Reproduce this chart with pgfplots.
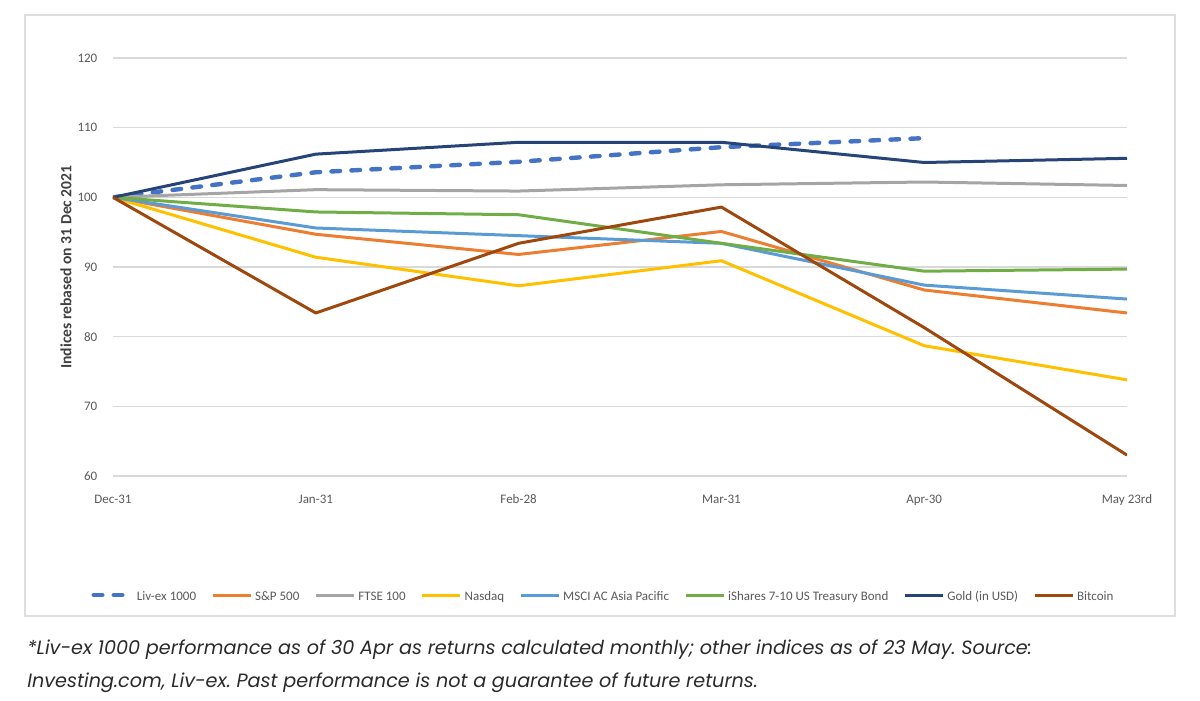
\documentclass[border=0pt]{standalone}
\usepackage{pgfplots}
\pgfplotsset{compat=1.18}
\usepackage{fontspec}
\setmainfont{Carlito}
\newfontfamily\capfont{Poppins}
\definecolor{livex}{HTML}{4472C4}
\definecolor{spx}{HTML}{ED7D31}
\definecolor{ftse}{HTML}{A5A5A5}
\definecolor{nasdaq}{HTML}{FFC000}
\definecolor{msci}{HTML}{5B9BD5}
\definecolor{ishares}{HTML}{70AD47}
\definecolor{gold}{HTML}{264478}
\definecolor{btc}{HTML}{9E480E}
\definecolor{gridc}{HTML}{D9D9D9}
\definecolor{framec}{HTML}{DEDEDE}
\definecolor{tickc}{HTML}{595959}
\definecolor{labc}{HTML}{404040}
\definecolor{capc}{HTML}{2A2A2A}
\begin{document}
\begin{tikzpicture}
\useasboundingbox (-56.5pt,-112.5pt) rectangle (543.5pt,238pt);
\draw[color=framec, line width=0.6pt] (-44pt,-70pt) rectangle (531pt,230.5pt);
\begin{axis}[
  at={(0pt,0pt)}, anchor=south west,
  scale only axis, width=507pt, height=209pt,
  xmin=0, xmax=5, ymin=60, ymax=120,
  xtick={0,1,2,3,4,5},
  xticklabels={Dec-31,Jan-31,Feb-28,Mar-31,Apr-30,May 23rd},
  ytick={60,70,80,90,100,110,120},
  ymajorgrids, grid style={color=gridc, line width=0.6pt},
  axis line style={draw=none},
  major tick length=0pt,
  tick label style={font=\fontsize{6.5}{7}\selectfont, text=tickc},
  /pgf/number format/assume math mode=true,
  yticklabel style={xshift=-4.3pt},
  xticklabel style={yshift=-3pt, text height=1.5ex, text depth=0.4ex},
  ylabel={Indices rebased on 31 Dec 2021},
  y label style={at={(axis description cs:-0.0463,0.5)}, anchor=center, font=\fontsize{7.8}{8}\selectfont\bfseries, text=labc},
  legend columns=8,
  legend style={at={(axis description cs:0.4842,-0.2847)}, anchor=center, draw=none, fill=none,
    font=\fontsize{6.5}{7}\selectfont, text=tickc,
    nodes={inner sep=1.5pt, text height=1.5ex, text depth=0.4ex},
    /tikz/every even column/.append style={column sep=6pt}},
  legend image code/.code={\draw[#1] (0pt,0pt) -- (19pt,0pt);},
  every axis plot/.append style={line width=1.5pt, line join=round},
]
\addplot[color=livex, line width=2.2pt, line cap=round, dash pattern=on 4.3pt off 5.7pt] coordinates {(0,100)(1,103.6)(2,105.1)(3,107.2)(4,108.5)};
\addlegendentry{Liv-ex 1000}
\addplot[color=spx] coordinates {(0,100)(1,94.7)(2,91.8)(3,95.1)(4,86.7)(5,83.4)};
\addlegendentry{S\&P 500}
\addplot[color=ftse] coordinates {(0,100)(1,101.1)(2,100.9)(3,101.8)(4,102.2)(5,101.7)};
\addlegendentry{FTSE 100}
\addplot[color=nasdaq] coordinates {(0,100)(1,91.4)(2,87.3)(3,90.9)(4,78.7)(5,73.8)};
\addlegendentry{Nasdaq}
\addplot[color=msci] coordinates {(0,100)(1,95.6)(2,94.5)(3,93.4)(4,87.4)(5,85.4)};
\addlegendentry{MSCI AC Asia Pacific}
\addplot[color=ishares] coordinates {(0,100)(1,97.9)(2,97.5)(3,93.4)(4,89.4)(5,89.7)};
\addlegendentry{iShares 7-10 US Treasury Bond}
\addplot[color=gold] coordinates {(0,100)(1,106.2)(2,107.9)(3,107.9)(4,105.0)(5,105.6)};
\addlegendentry{Gold (in USD)}
\addplot[color=btc] coordinates {(0,100)(1,83.4)(2,93.4)(3,98.6)(4,81.3)(5,63.0)};
\addlegendentry{Bitcoin}
\end{axis}
\node[anchor=west, inner sep=0pt, text=capc, font=\capfont\itshape\fontsize{9.6}{11}\selectfont] at (-43pt,-87pt) {\frenchspacing *Liv-ex 1000 performance as of 30 Apr as returns calculated monthly; other indices as of 23 May. Source:};
\node[anchor=west, inner sep=0pt, text=capc, font=\capfont\itshape\fontsize{9.6}{11}\selectfont] at (-43pt,-103.5pt) {\frenchspacing Investing.com, Liv-ex. Past performance is not a guarantee of future returns.};
\end{tikzpicture}
\end{document}
